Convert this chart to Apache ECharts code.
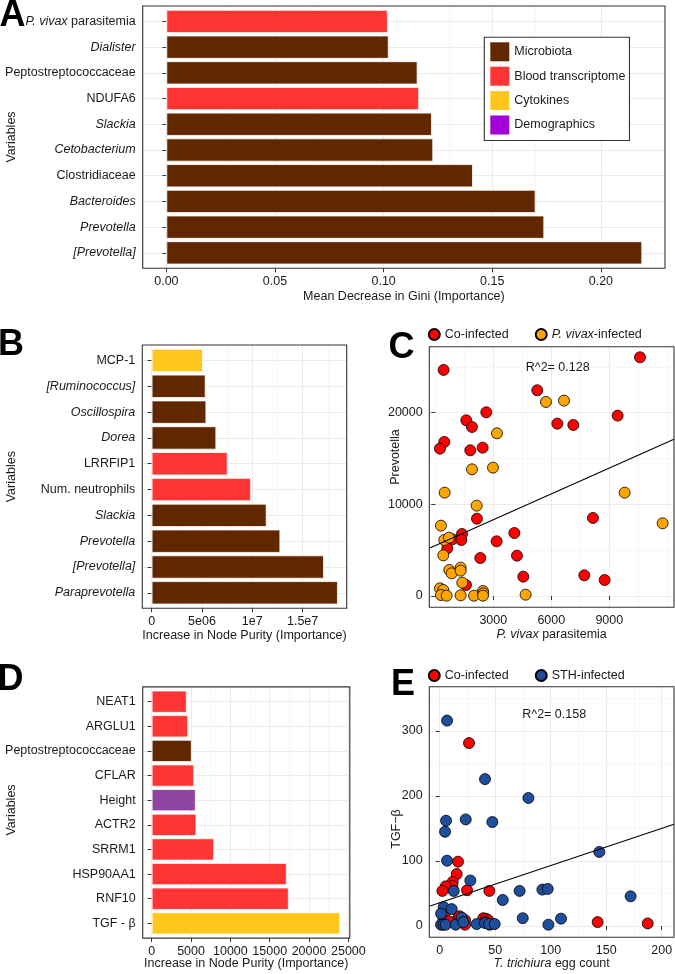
<!DOCTYPE html>
<html><head><meta charset="utf-8">
<script src="https://cdn.jsdelivr.net/npm/echarts@6/dist/echarts.min.js"></script>
<style>html,body{margin:0;padding:0;background:#fff}#chart{width:675px;height:974px}</style>
</head><body><div id="chart"></div>
<script>
// ---------- DATA ----------
// Panel A
const catsA = ['P. vivax parasitemia','Dialister','Peptostreptococcaceae','NDUFA6','Slackia','Cetobacterium','Clostridiaceae','Bacteroides','Prevotella','[Prevotella]'];
const valsA = [0.1019,0.1023,0.1156,0.1163,0.1222,0.1228,0.1411,0.1699,0.1739,0.2190];
const groupsA = ['Blood transcriptome','Microbiota','Microbiota','Blood transcriptome','Microbiota','Microbiota','Microbiota','Microbiota','Microbiota','Microbiota'];
const ticksA = [0,0.05,0.10,0.15,0.20];
const tickLabelsA = ['0.00','0.05','0.10','0.15','0.20'];
const minorA = [0.025,0.075,0.125,0.175,0.225];
// Panel B
const catsB = ['MCP-1','[Ruminococcus]','Oscillospira','Dorea','LRRFIP1','Num. neutrophils','Slackia','Prevotella','[Prevotella]','Paraprevotella'];
const valsB = [5.10e6,5.36e6,5.43e6,6.42e6,7.55e6,9.87e6,11.42e6,12.78e6,17.12e6,18.50e6];
const groupsB = ['Cytokines','Microbiota','Microbiota','Microbiota','Blood transcriptome','Blood transcriptome','Microbiota','Microbiota','Microbiota','Microbiota'];
const ticksB = [0,5e6,1e7,1.5e7];
const tickLabelsB = ['0','5e06','1e7','1.5e7'];
const minorB = [2.5e6,7.5e6,12.5e6,17.5e6];
// Panel D
const catsD = ['NEAT1','ARGLU1','Peptostreptococcaceae','CFLAR','Height','ACTR2','SRRM1','HSP90AA1','RNF10','TGF - β'];
const valsD = [4449,4619,5085,5381,5593,5678,7924,17161,17415,23950];
const groupsD = ['Blood transcriptome','Blood transcriptome','Microbiota','Blood transcriptome','Demographics','Blood transcriptome','Blood transcriptome','Blood transcriptome','Blood transcriptome','Cytokines'];
const ticksD = [0,5000,10000,15000,20000,25000];
const tickLabelsD = ['0','5000','10000','15000','20000','25000'];
const minorD = [2500,7500,12500,17500,22500];
// Panel C  [parasitemia, Prevotella]
const cCoinfected = [[10585,26035],[431,24653],[5275,22435],[2638,20035],[1603,19162],[1896,18435],[9430,19671],[6310,18798],[7137,18653],[465,16798],[241,16071],[1810,15889],[2448,16180],[2155,8435],[8154,8508],[1379,6763],[879,6181],[1345,6108],[621,5199],[4086,6872],[3172,5963],[4224,4400],[2327,4145],[4551,2109],[7706,2254],[8758,1745],[1586,1200]];
const cVivax = [[5724,21162],[6655,21307],[3189,17744],[1896,13817],[2983,13999],[483,11272],[9792,11272],[2138,9853],[293,7672],[11757,7926],[465,6108],[707,6363],[414,4436],[724,2836],[845,2472],[1310,3090],[1310,2763],[1396,1454],[241,836],[414,654],[293,109],[586,36],[1310,73],[2000,36],[2465,545],[2483,290],[2465,36],[4672,145]];
const cFit = [[-310,5202],[12345,17088]];
const cXTicks = [3000,6000,9000];
const cXMinor = [0,1500,4500,7500,10500,12000];
const cYTicks = [0,10000,20000];
const cYMinor = [5000,15000,25000];
// Panel E  [egg count, TGF-beta]
const eCoinfected = [[26.4,281.5],[16.5,99],[15.3,80],[11.7,68],[11.4,61.5],[5.4,61],[2.4,54],[24.6,55],[44.7,54],[3.3,10],[4.2,14],[8.7,7],[16.8,12],[17.7,15],[22.8,9],[22.8,2],[39.3,12],[41.7,11],[43.8,9],[45,2],[41.7,6],[142.3,6],[187.4,4]];
const eSTH = [[6.6,316],[40.8,226],[79.9,197],[5.7,162],[23.4,164],[47.4,160],[4.8,145],[6.6,100.5],[27.6,70],[12.6,54],[56.8,40],[72,54],[92.5,56],[97.3,57],[3.6,29],[10.8,26],[1.2,19],[1.2,2],[3.3,2],[5.4,2],[14.4,2],[19.8,13],[21.3,6],[33.3,3],[40.8,4.6],[44.4,3],[49.5,3],[74.8,12],[97.9,2],[143.8,114],[172,45.6],[109.3,11.3]];
const eFit = [[-9.4,30.3],[211.1,156.5]];
const eXTicks = [0,50,100,150,200];
const eXMinor = [25,75,125,175];
const eYTicks = [0,100,200,300];
const eYMinor = [50,150,250,350];

const legendGroups = ['Microbiota','Blood transcriptome','Cytokines','Demographics'];
const barColors = {'Microbiota':'#612800','Blood transcriptome':'#FF3535','Cytokines':'#FFC71C','Demographics':'#8E44A0'};
const legendColors = {'Microbiota':'#612800','Blood transcriptome':'#FF3535','Cytokines':'#FFC71C','Demographics':'#A100D6'};

// ---------- STYLE ----------
const FONT = '"Liberation Sans", Arial, Helvetica, sans-serif';
const TXT = '#1a1a1a';
const FS = 12.5;
const GMAJ = {color:'#EBEBEB', width:1.1, type:'solid'};
const GMIN = {color:'#F1F1F1', width:0.6, type:'solid'};
const italicTerms = ['P. vivax','T. trichiura','[Prevotella]','[Ruminococcus]','Paraprevotella','Prevotella','Dialister','Slackia','Cetobacterium','Bacteroides','Oscillospira','Dorea'].sort((a,b)=>b.length-a.length);
const rich = {i:{fontStyle:'italic',fontFamily:FONT,fontSize:FS,color:TXT}, n:{fontFamily:FONT,fontSize:FS,color:TXT}};
function richLabel(s){
  for (const t of italicTerms){ if (s.startsWith(t)) { const r = s.slice(t.length); return '{i|'+t+'}'+(r?'{n|'+r+'}':''); } }
  return '{n|'+s+'}';
}
function labelFor(v, ticks, labels){
  let best=0, bd=Infinity; ticks.forEach((t,i)=>{const d=Math.abs(t-v); if(d<bd){bd=d;best=i;}});
  return labels[best];
}

const option = {animation:false, backgroundColor:'#fff', grid:[], xAxis:[], yAxis:[], series:[], legend:[], graphic:{elements:[]}};
const G = option.graphic.elements;

function valueAxis(gi, min, max, ticks, labels, name, nameGap, margin){
  return {gridIndex:gi, type:'value', min, max,
    axisLine:{show:false},
    axisTick:{show:true, customValues:ticks, length:4, lineStyle:{color:'#333',width:1}},
    axisLabel:{customValues:ticks, margin:margin, color:TXT, fontFamily:FONT, fontSize:FS, hideOverlap:false,
      formatter:(v)=>labelFor(v,ticks,labels)},
    splitLine:{show:false}, minorSplitLine:{show:false},
    name:name||'', nameLocation:'middle', nameGap:nameGap||0, nameMoveOverlap:false,
    nameTextStyle:{fontFamily:FONT, fontSize:FS, color:TXT, rich:rich}};
}
function gridLines(list){
  return {silent:true, z:0, zlevel:0, symbol:['none','none'], label:{show:false}, emphasis:{disabled:true}, animation:false, data:list};
}
function frame(l,t,w,h){
  G.push({type:'rect', silent:true, z:100, shape:{x:l,y:t,width:w,height:h}, style:{fill:'none',stroke:'#333',lineWidth:1.1}});
}
function text(x,y,str,opts){
  G.push(Object.assign({type:'text', x, y, silent:true, z:100,
    style:Object.assign({text:str, fontFamily:FONT, fontSize:FS, fill:TXT, align:'center', verticalAlign:'middle', textAlign:'center', textVerticalAlign:'middle', rich:rich}, opts && opts.style || {})},
    opts && opts.el || {}));
}

function addBarPanel(p){
  const gf = option.grid.length, gb = gf+1;
  const unit = p.height/(p.cats.length+0.2);
  option.grid.push({left:p.left, top:p.top, width:p.width, height:p.height, containLabel:false, outerBoundsMode:'none'});
  option.grid.push({left:p.left, top:p.top+0.1*unit, width:p.width, height:unit*p.cats.length, containLabel:false, outerBoundsMode:'none'});
  option.xAxis.push(valueAxis(gf, p.min, p.max, p.ticks, p.tickLabels, p.title, p.nameGap, 6.5));
  option.yAxis.push({gridIndex:gf, type:'value', min:0, max:1, show:false});
  option.xAxis.push({gridIndex:gb, type:'value', min:p.min, max:p.max, show:false});
  option.yAxis.push({gridIndex:gb, type:'category', inverse:true, data:p.cats,
    axisLine:{show:false}, splitLine:{show:false},
    axisTick:{show:true, alignWithLabel:true, length:4, lineStyle:{color:'#333',width:1}},
    axisLabel:{interval:0, margin:7, formatter:richLabel, rich:rich, color:TXT, fontFamily:FONT, fontSize:FS}});
  option.series.push({type:'line', xAxisIndex:gf, yAxisIndex:gf, data:[], z:0, silent:true,
    markLine:gridLines(p.ticks.map(v=>({xAxis:v, lineStyle:GMAJ})).concat(p.minor.map(v=>({xAxis:v, lineStyle:GMIN}))))});
  option.series.push({type:'line', xAxisIndex:gb, yAxisIndex:gb, data:[], z:0, silent:true,
    markLine:gridLines(p.cats.map((c,i)=>({yAxis:i, lineStyle:GMAJ})))});
  option.series.push({type:'bar', xAxisIndex:gb, yAxisIndex:gb, barCategoryGap:'10%', z:3, silent:true,
    itemStyle:{borderColor:'#fff', borderWidth:0.8},
    data:p.vals.map((v,i)=>({value:v, itemStyle:{color:barColors[p.groups[i]]}}))});
  frame(p.left,p.top,p.width,p.height);
  return gb;
}

function addScatterPanel(p){
  const g = option.grid.length;
  option.grid.push({left:p.left, top:p.top, width:p.width, height:p.height, containLabel:false, outerBoundsMode:'none'});
  option.xAxis.push(valueAxis(g, p.xmin, p.xmax, p.xticks, p.xticks.map(String), p.xtitle, p.nameGap, 6.5));
  option.yAxis.push(valueAxis(g, p.ymin, p.ymax, p.yticks, p.yticks.map(String), '', 0, 6.6));
  option.series.push({type:'line', xAxisIndex:g, yAxisIndex:g, data:[], z:0, silent:true,
    markLine:gridLines(
      p.xticks.map(v=>({xAxis:v, lineStyle:GMAJ})).concat(p.xminor.map(v=>({xAxis:v, lineStyle:GMIN})))
      .concat(p.yticks.map(v=>({yAxis:v, lineStyle:GMAJ}))).concat(p.yminor.map(v=>({yAxis:v, lineStyle:GMIN}))))});
  p.groups.forEach(gr=>{
    option.series.push({type:'scatter', name:gr.name, xAxisIndex:g, yAxisIndex:g, data:gr.data, symbol:'circle', symbolSize:11, z:4, silent:true,
      itemStyle:{color:gr.color, borderColor:'#000', borderWidth:0.8, opacity:1}});
  });
  option.series.push({type:'line', xAxisIndex:g, yAxisIndex:g, data:p.fit, symbol:'none', z:5, silent:true,
    lineStyle:{color:'#000', width:1.1}});
  frame(p.left,p.top,p.width,p.height);
}

// ---------- PANELS ----------
const gA = addBarPanel({left:142.7, top:6, width:522.3, height:262.3, min:-0.0109, max:0.2295,
  cats:catsA, vals:valsA, groups:groupsA, ticks:ticksA, tickLabels:tickLabelsA, minor:minorA,
  title:'Mean Decrease in Gini (Importance)', nameGap:21.5});
addBarPanel({left:142.3, top:345, width:204.4, height:263.3, min:-0.93e6, max:19.38e6,
  cats:catsB, vals:valsB, groups:groupsB, ticks:ticksB, tickLabels:tickLabelsB, minor:minorB,
  title:'Increase in Node Purity (Importance)', nameGap:20.5});
addBarPanel({left:142.7, top:686.9, width:207.1, height:251.2, min:-1145, max:25180,
  cats:catsD, vals:valsD, groups:groupsD, ticks:ticksD, tickLabels:tickLabelsD, minor:minorD,
  title:'Increase in Node Purity (Importance)', nameGap:18.7});

addScatterPanel({left:429.3, top:346.7, width:244.7, height:260.6, xmin:-310, xmax:12345, ymin:-1232, ymax:27187,
  xticks:cXTicks, xminor:cXMinor, yticks:cYTicks, yminor:cYMinor, xtitle:'{i|P. vivax}{n| parasitemia}', nameGap:20.5,
  groups:[{name:'Co-infected', data:cCoinfected, color:'#FF0000'},{name:'P. vivax-infected', data:cVivax, color:'#FFA500'}], fit:cFit});
addScatterPanel({left:429.3, top:686.7, width:244.7, height:250.6, xmin:-9.4, xmax:211.1, ymin:-17.4, ymax:368.2,
  xticks:eXTicks, xminor:eXMinor, yticks:eYTicks, yminor:eYMinor, xtitle:'{i|T. trichiura}{n| egg count}', nameGap:19.5,
  groups:[{name:'Co-infected', data:eCoinfected, color:'#FF0000'},{name:'STH-infected', data:eSTH, color:'#1F4E9C'}], fit:eFit});

// legend-only series for panel A
legendGroups.forEach(n=>option.series.push({type:'scatter', name:n, xAxisIndex:gA, yAxisIndex:gA, data:[], itemStyle:{color:legendColors[n], opacity:1}}));

const legText = {fontFamily:FONT, fontSize:FS, color:TXT, rich:rich};
const legFmt = (n)=> n==='P. vivax-infected' ? '{i|P. vivax}{n|-infected}' : '{n|'+n+'}';
option.legend.push({data:legendGroups, orient:'vertical', left:484.3, top:37.3, padding:[5,4,6,6], itemGap:5.4, z:50,
  itemWidth:19, itemHeight:19, icon:'rect', borderColor:'#333', borderWidth:1.1, backgroundColor:'#fff',
  selectedMode:false, textStyle:legText, formatter:legFmt, itemStyle:{borderWidth:0, opacity:1}});
option.legend.push({data:['Co-infected','P. vivax-infected'], orient:'horizontal', left:427.8, top:328, padding:0, itemGap:26,
  itemWidth:11, itemHeight:11, icon:'circle', selectedMode:false, textStyle:legText, formatter:legFmt});
option.legend.push({data:['Co-infected','STH-infected'], orient:'horizontal', left:427.8, top:669, padding:0, itemGap:26,
  itemWidth:11, itemHeight:11, icon:'circle', selectedMode:false, textStyle:legText, formatter:legFmt});

// panel letters
const LF = {fontFamily:FONT, fontSize:36, fontWeight:'bold', fill:'#000', align:'left', textAlign:'left'};
text(-0.5, 16, 'A', {style:LF});
text(-2, 345, 'B', {style:LF});
text(388.6, 348, 'C', {style:LF});
text(-2.5, 680, 'D', {style:LF});
text(391, 685, 'E', {style:LF});
// y-axis titles
text(11.3, 137, 'Variables', {el:{rotation:Math.PI/2}});
text(11.3, 476.7, 'Variables', {el:{rotation:Math.PI/2}});
text(11.3, 810, 'Variables', {el:{rotation:Math.PI/2}});
text(395.7, 457, 'Prevotella', {el:{rotation:Math.PI/2}});
text(396.5, 829, 'TGF\u2212β', {el:{rotation:Math.PI/2}});
// annotations
text(557.7, 367.3, 'R^2= 0.128');
text(554.2, 715, 'R^2= 0.158');

const chart = echarts.init(document.getElementById('chart'), null, {renderer:'canvas'});
chart.setOption(option);
</script></body></html>
